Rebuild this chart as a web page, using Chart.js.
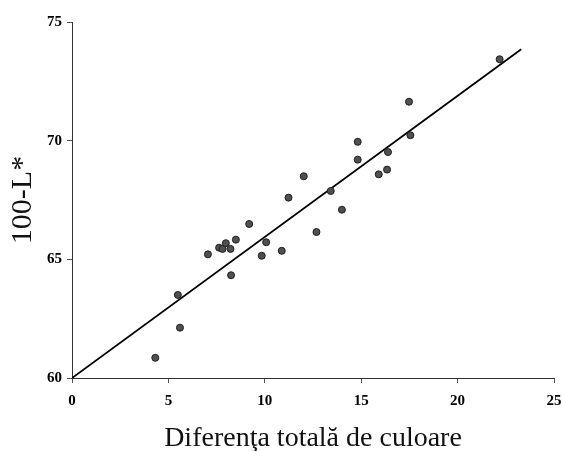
<!DOCTYPE html>
<html>
<head>
<meta charset="utf-8">
<script src="https://cdn.jsdelivr.net/npm/chart.js@4"></script>
<style>
  body { margin: 0; background: #fff; }
  #wrap { width: 563px; height: 451px; }
</style>
</head>
<body>
<div id="wrap"><canvas id="chart" width="563" height="451"></canvas></div>
<script>
// measured points
const diffX = [4.32, 5.49, 5.6, 7.05, 7.63, 7.81, 7.98, 8.22, 8.25, 8.5, 9.19, 9.84, 10.07, 10.88, 11.23,
               12.02, 12.68, 13.42, 14.0, 14.82, 14.82, 15.91, 16.34, 16.39, 17.48, 17.55, 22.18];
const lightY = [60.85, 63.5, 62.12, 65.21, 65.49, 65.44, 65.68, 65.44, 64.33, 65.83, 66.49, 65.15, 65.72, 65.36, 67.6,
                68.5, 66.15, 67.88, 67.09, 69.95, 69.2, 68.58, 68.78, 69.52, 71.64, 70.23, 73.43];

// fitted line end points
const fitX = [0, 23.3];
const fitY = [60, 73.85];

const xTicks = [0, 5, 10, 15, 20, 25];
const yTicks = [60, 65, 70, 75];

const serif = "'Liberation Serif', 'Times New Roman', serif";

const points = diffX.map((x, i) => ({ x: x, y: lightY[i] }));
const fitLine = fitX.map((x, i) => ({ x: x, y: fitY[i] }));

new Chart(document.getElementById('chart'), {
    type: 'scatter',
    data: {
        datasets: [
            {
                data: points,
                backgroundColor: '#505050',
                borderColor: '#1e1e1e',
                borderWidth: 1,
                pointRadius: 3.5,
                order: 1
            },
            {
                data: fitLine,
                type: 'line',
                showLine: true,
                borderColor: '#000000',
                borderWidth: 1.8,
                pointRadius: 0,
                fill: false,
                tension: 0,
                order: 2
            }
        ]
    },
    options: {
        responsive: false,
        animation: false,
        layout: { padding: { top: 22, right: 9, left: 0, bottom: 0 } },
        plugins: {
            legend: { display: false },
            tooltip: { enabled: false }
        },
        scales: {
            x: {
                type: 'linear',
                min: 0,
                max: 25,
                afterBuildTicks: scale => { scale.ticks = xTicks.map(v => ({ value: v })); },
                afterFit: scale => {
                    scale.height = 73;
                    // keep the "25" label from shrinking the plot
                    scale.paddingLeft = 0;
                    scale.paddingRight = 0;
                },
                ticks: {
                    color: '#000',
                    padding: 9,
                    font: { family: serif, size: 15, weight: 'bold' }
                },
                grid: { drawOnChartArea: false, drawTicks: true, tickLength: 5, color: '#555' },
                border: { display: true, color: '#333', width: 1 },
                title: {
                    display: true,
                    text: 'Diferenţa totală de culoare',
                    color: '#111',
                    padding: { top: 0, bottom: 1 },
                    font: { family: serif, size: 28, lineHeight: 0.8 }
                }
            },
            y: {
                type: 'linear',
                min: 60,
                max: 75,
                afterBuildTicks: scale => { scale.ticks = yTicks.map(v => ({ value: v })); },
                afterFit: scale => { scale.width = 72; },
                ticks: {
                    color: '#000',
                    padding: 5,
                    font: { family: serif, size: 15, weight: 'bold' }
                },
                grid: { drawOnChartArea: false, drawTicks: true, tickLength: 5, color: '#555' },
                border: { display: true, color: '#333', width: 1 },
                title: {
                    display: true,
                    text: '100-L*',
                    color: '#111',
                    padding: { top: 8, bottom: 0 },
                    font: { family: serif, size: 30, lineHeight: 1 }
                }
            }
        }
    }
});
</script>
</body>
</html>
